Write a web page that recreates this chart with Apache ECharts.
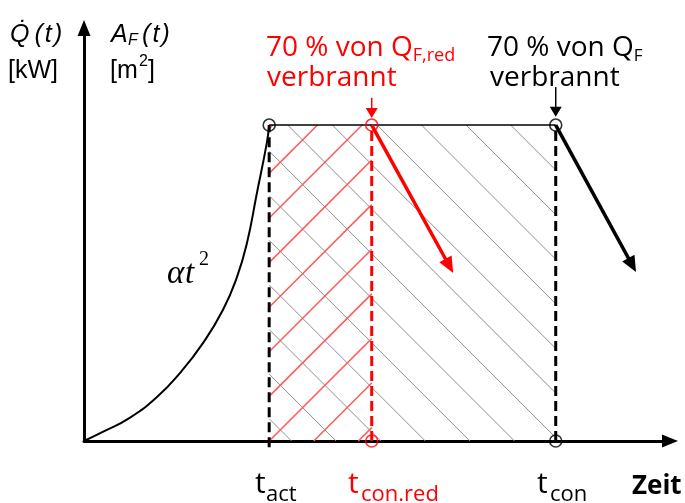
<!DOCTYPE html>
<html><head><meta charset="utf-8">
<script src="https://cdn.jsdelivr.net/npm/echarts@6/dist/echarts.min.js"></script>
<style>html,body{margin:0;padding:0;background:#fff}#c{width:685px;height:503px}</style>
</head><body><div id="c"></div>
<script>
// ---------- data ----------
const milestoneNames = ['t_act', 't_con.red', 't_con'];
const milestoneTimes = [31.6, 49.1, 80.5];        // t_act, t_con.red, t_con
const plateauLevel = [76.5];                       // constant HRR / fire area
const growthTime = [0, 3.2, 7.8, 12.5, 16.4, 20.3, 23.7, 26.1, 27.8, 29.5, 31.2, 31.6];
const growthValue = [0, 2.2, 5.6, 10.7, 16.5, 23.7, 31.7, 39.7, 47.9, 60.0, 72.2, 76.5];
const decayEndRed = [63.0, 40.7];
const decayEndBlack = [94.2, 40.9];
const pointerRed = [83.1, 78.2];   // y from, y to (at t_con.red)
const pointerBlack = [85.7, 78.5]; // y from, y to (at t_con)

const [tAct, tConRed, tCon] = milestoneTimes;
const P = plateauLevel[0];
const HATCH = 44.6;

function hatchRender(dir, color, width, phase) {
  return function (params, api) {
    const a = api.coord([api.value(0), api.value(3)]);
    const b = api.coord([api.value(1), api.value(2)]);
    const xL = a[0], yT = a[1], xR = b[0], yB = b[1];
    const children = [];
    let base, cMin, cMax;
    if (dir === 'down') { base = (yB - xL) - phase * HATCH; cMin = yT - xR; cMax = yB - xL; }
    else { base = (xL + yB) + phase * HATCH; cMin = xL + yT; cMax = xR + yB; }
    const start = base - HATCH * Math.floor((base - cMin) / HATCH);
    for (let c = start; c <= cMax + 0.01; c += HATCH) {
      let x1, y1, x2, y2;
      if (dir === 'down') {
        const xs = Math.max(xL, yT - c), xe = Math.min(xR, yB - c);
        if (xe - xs < 0.5) continue;
        x1 = xs; y1 = xs + c; x2 = xe; y2 = xe + c;
      } else {
        const xs = Math.max(xL, c - yB), xe = Math.min(xR, c - yT);
        if (xe - xs < 0.5) continue;
        x1 = xs; y1 = c - xs; x2 = xe; y2 = c - xe;
      }
      children.push({ type: 'line', shape: { x1, y1, x2, y2 }, style: { stroke: color, lineWidth: width } });
    }
    return { type: 'group', children };
  };
}

function arrowRender(color, width, headLen, headHalf) {
  return function (params, api) {
    const p1 = api.coord([api.value(0), api.value(1)]);
    const p2 = api.coord([api.value(2), api.value(3)]);
    const dx = p2[0] - p1[0], dy = p2[1] - p1[1];
    const len = Math.sqrt(dx * dx + dy * dy);
    const ux = dx / len, uy = dy / len, nx = -uy, ny = ux;
    const bx = p2[0] - ux * headLen, by = p2[1] - uy * headLen;
    return {
      type: 'group', children: [
        { type: 'line', shape: { x1: p1[0], y1: p1[1], x2: bx + ux, y2: by + uy }, style: { stroke: color, lineWidth: width } },
        { type: 'polygon', shape: { points: [[p2[0], p2[1]], [bx + nx * headHalf, by + ny * headHalf], [bx - nx * headHalf, by - ny * headHalf]] }, style: { fill: color } }
      ]
    };
  };
}

const sansAx = '"Liberation Sans", Arial, sans-serif';
const sansAn = '"Open Sans", "Noto Sans", sans-serif';
const serif = '"Liberation Serif", "DejaVu Serif", serif';
function txt(x, y, text, font, fill) {
  return { type: 'text', x, y, silent: true, z: 100,
    style: { text, font, fill: fill || '#000', align: 'left', verticalAlign: 'middle' } };
}
function richTxt(x, y, text, rich) {
  return { type: 'text', x, y, silent: true, z: 100,
    style: { text, rich, align: 'left', verticalAlign: 'middle' } };
}

const chart = echarts.init(document.getElementById('c'), null, { renderer: 'canvas' });
const axisCommon = {
  type: 'value', min: 0, max: 100,
  axisTick: { show: false }, axisLabel: { show: false }, splitLine: { show: false },
  axisLine: { show: true, symbol: ['none', 'triangle'], symbolSize: [13, 16], lineStyle: { color: '#000', width: 3 } }
};
chart.setOption({
  animation: false,
  backgroundColor: '#fff',
  grid: { left: 84, right: 15, top: 28, bottom: 62 },
  xAxis: Object.assign({}, axisCommon),
  yAxis: Object.assign({}, axisCommon),
  series: [
    { type: 'custom', silent: true, z: 1, data: [[tAct, tCon, 0, P]], renderItem: hatchRender('down', '#8f8f8f', 1, 0.5) },
    { type: 'custom', silent: true, z: 2, data: [[tAct, tConRed, 0, P]], renderItem: hatchRender('up', '#ff5c5c', 1.6, 0) },
    { type: 'line', silent: true, z: 3, symbol: 'none', clip: false, data: [[tAct, -1.5], [tAct, P]], lineStyle: { color: '#000', width: 3, type: [10, 5] } },
    { type: 'line', silent: true, z: 3, symbol: 'none', clip: false, data: [[tCon, 0], [tCon, P]], lineStyle: { color: '#000', width: 3, type: [10, 5] } },
    { type: 'line', silent: true, z: 3, symbol: 'none', clip: false, data: [[tConRed, 0], [tConRed, P]], lineStyle: { color: '#ff0000', width: 3, type: [10, 5] } },
    { type: 'line', silent: true, z: 4, symbol: 'none', smooth: 0.5, clip: false,
      data: growthTime.map((t, i) => [t, growthValue[i]]), lineStyle: { color: '#000', width: 2 } },
    { type: 'line', silent: true, z: 4, symbol: 'none', clip: false, data: [[tAct, P], [tCon, P]], lineStyle: { color: '#000', width: 1.5 } },
    { type: 'custom', silent: true, z: 5, data: [[tConRed, P, decayEndRed[0], decayEndRed[1]]], renderItem: arrowRender('#ff0000', 3.5, 16, 7) },
    { type: 'custom', silent: true, z: 5, data: [[tCon, P, decayEndBlack[0], decayEndBlack[1]]], renderItem: arrowRender('#000', 3.5, 16, 7) },
    { type: 'custom', silent: true, z: 5, data: [[tConRed, pointerRed[0], tConRed, pointerRed[1]]], renderItem: arrowRender('#ff0000', 1.5, 10, 6) },
    { type: 'custom', silent: true, z: 5, data: [[tCon, pointerBlack[0], tCon, pointerBlack[1]]], renderItem: arrowRender('#000', 1.5, 10, 6) },
    { type: 'scatter', silent: true, z: 6, symbol: 'circle', symbolSize: 12, clip: false,
      data: [[tAct, P], [tCon, P], [tCon, 0]], itemStyle: { color: 'rgba(0,0,0,0)', borderColor: '#000', borderWidth: 1.6 } },
    { type: 'scatter', silent: true, z: 6, symbol: 'circle', symbolSize: 12, clip: false,
      data: [[tConRed, P], [tConRed, 0]], itemStyle: { color: 'rgba(0,0,0,0)', borderColor: '#ff0000', borderWidth: 1.6 } }
  ],
  graphic: [
    txt(10, 35, 'Q\u0307\u2009(\u200At\u200A)', 'italic 25px ' + sansAx),
    txt(8, 71, '[kW]', '25px ' + sansAx),
    txt(111, 35, 'A', 'italic 25px ' + sansAx),
    txt(128, 41, 'F', 'italic 16px ' + sansAx),
    txt(142, 35, '(\u200At\u200A)', 'italic 25px ' + sansAx),
    txt(110, 71, '[m', '25px ' + sansAx),
    txt(139, 62, '2', '16px ' + sansAx),
    txt(148, 71, ']', '25px ' + sansAx),
    richTxt(266, 48, '{m|70 % von Q}{s|F,red}', {
      m: { font: '28px ' + sansAn, fill: '#ff0000', lineHeight: 34 },
      s: { font: '18px ' + sansAn, fill: '#ff0000', lineHeight: 16, verticalAlign: 'bottom' } }),
    txt(267, 78, 'verbrannt', '28px ' + sansAn, '#ff0000'),
    richTxt(487, 48, '{m|70 % von Q}{s|F}', {
      m: { font: '28px ' + sansAn, fill: '#000', lineHeight: 34 },
      s: { font: '17px ' + sansAn, fill: '#000', lineHeight: 16, verticalAlign: 'bottom' } }),
    txt(490, 78, 'verbrannt', '28px ' + sansAn, '#000'),
    txt(255, 484, 't', '30px ' + sansAn, '#000'),
    txt(266, 495, 'act', '22px ' + sansAn, '#000'),
    txt(348, 484, 't', '30px ' + sansAn, '#ff0000'),
    txt(361, 495, 'con.red', '22px ' + sansAn, '#ff0000'),
    txt(537, 484, 't', '30px ' + sansAn, '#000'),
    txt(550, 495, 'con', '22px ' + sansAn, '#000'),
    txt(632, 487, 'Zeit', 'bold 26px ' + sansAn, '#000'),
    txt(167, 274, '\u03B1', 'italic 33px ' + serif, '#000'),
    txt(185, 274, 't', 'italic 33px ' + serif, '#000'),
    txt(199, 260, '2', '20px ' + serif, '#000')
  ]
});
</script>
</body></html>
